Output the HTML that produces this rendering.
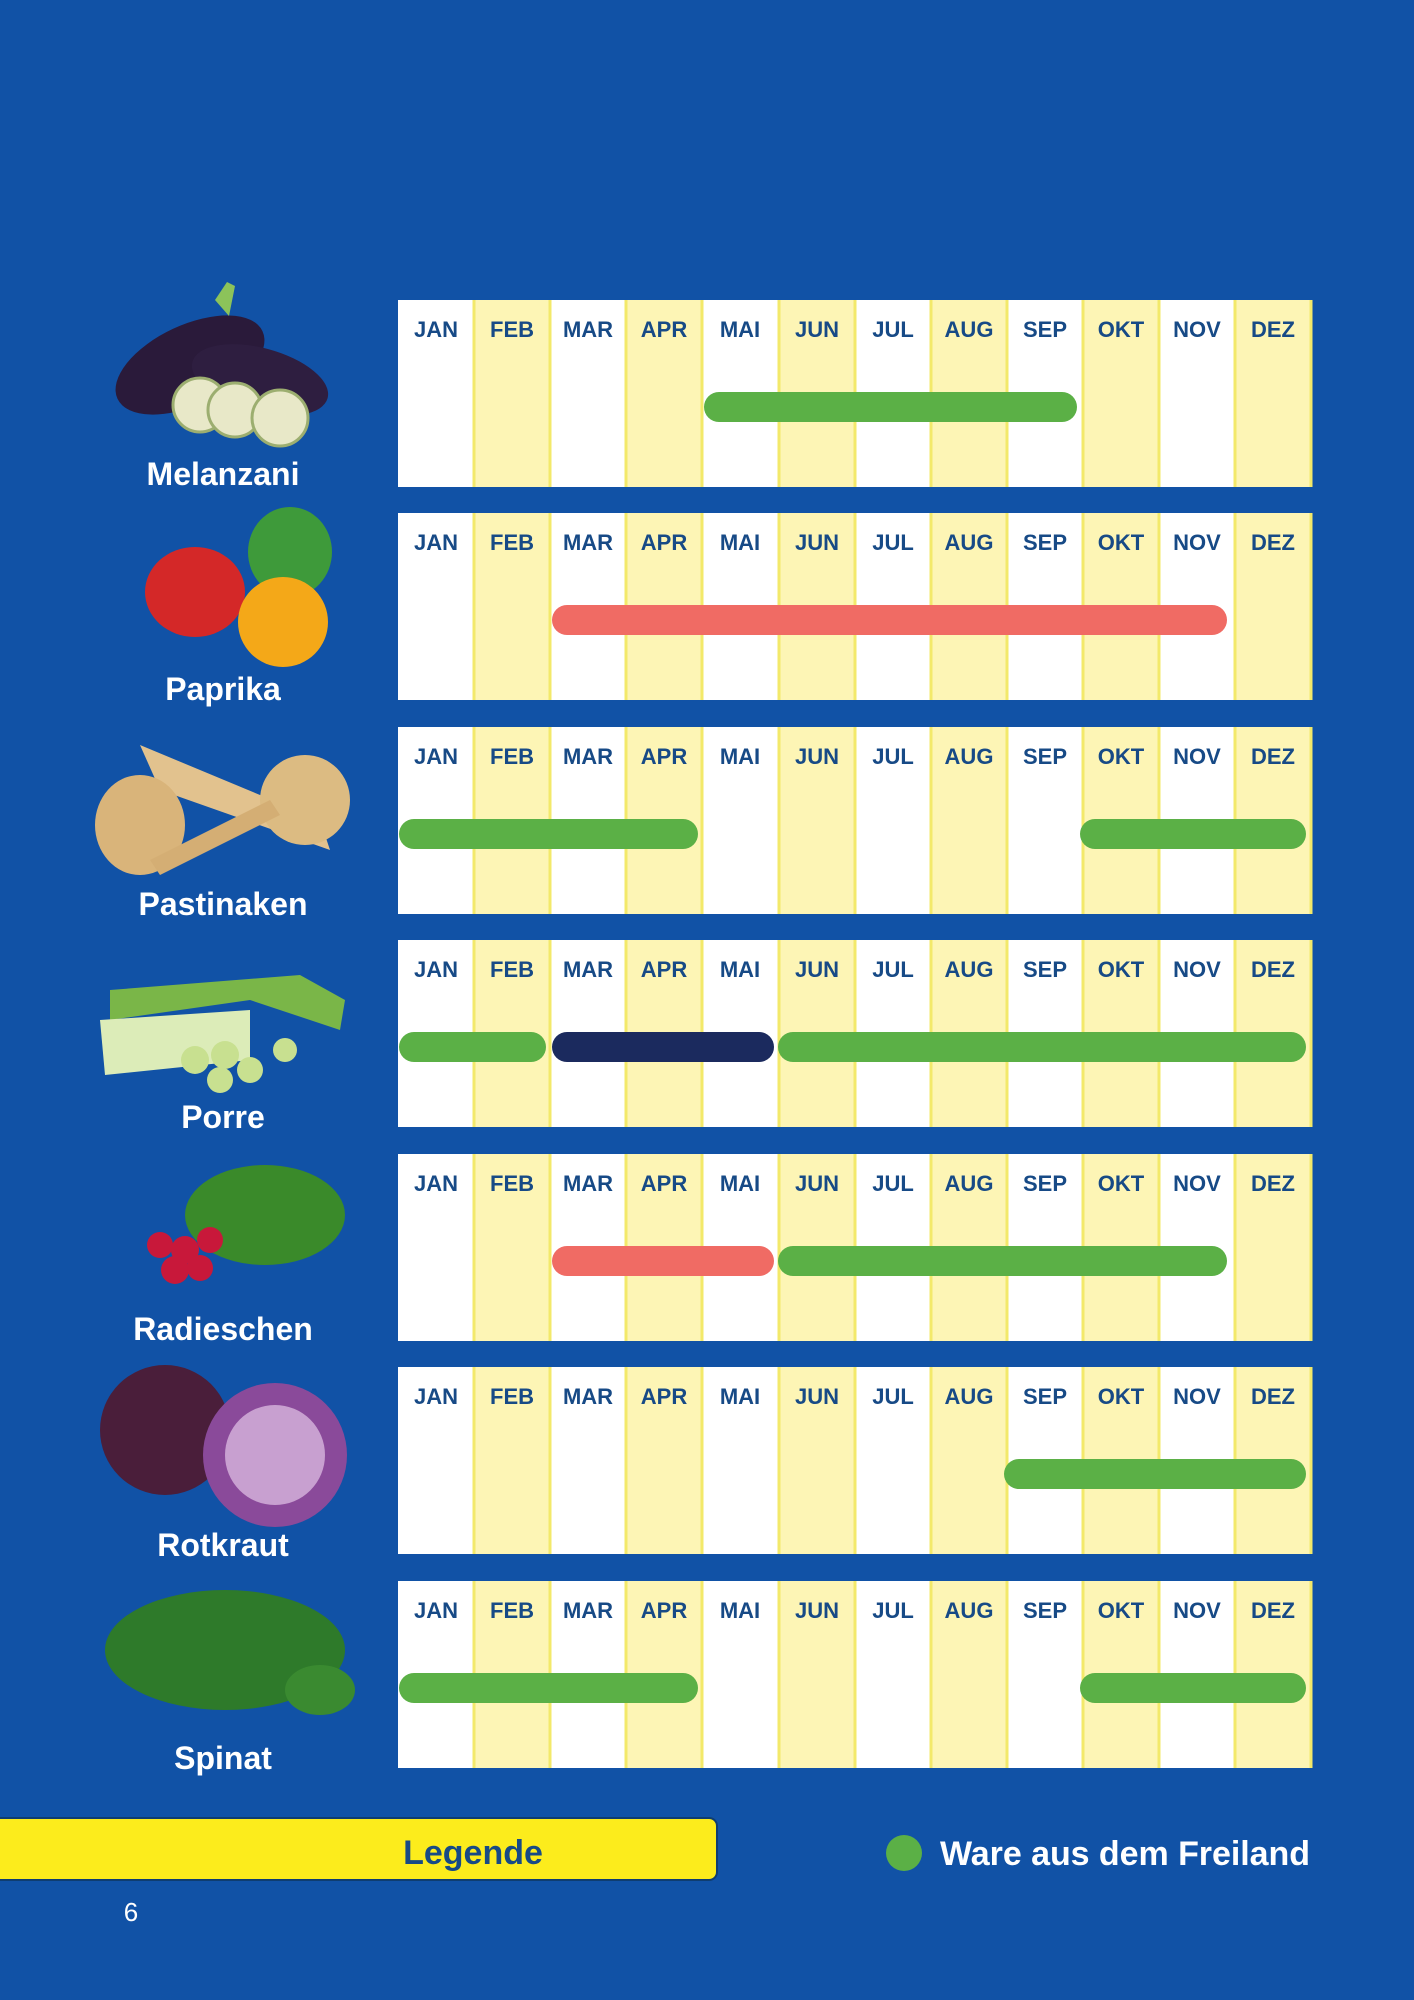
<!DOCTYPE html>
<html><head><meta charset="utf-8"><style>
html,body{margin:0;padding:0;background:#1152a6;}
svg{display:block}
.m{font-family:"Liberation Sans",sans-serif;font-weight:bold;font-size:22px;fill:#174a86;text-anchor:middle}
.n{font-family:"Liberation Sans",sans-serif;font-weight:bold;font-size:32px;fill:#fff;text-anchor:middle}
.y{fill:#fdf5b5;stroke:#f3e96a;stroke-width:3;stroke-dasharray:0 76 187 76 187}
</style></head><body>
<svg width="1414" height="2000" viewBox="0 0 1414 2000" xmlns="http://www.w3.org/2000/svg">
<rect width="1414" height="2000" fill="#1152a6"/>

<!-- Row 1 Melanzani -->
<g transform="translate(398,300)">
<rect x="0" y="0" width="913" height="187" fill="#fff"/>
<g class="y"><rect x="76" y="0" width="76" height="187"/><rect x="228" y="0" width="76" height="187"/><rect x="381" y="0" width="76" height="187"/><rect x="533" y="0" width="76" height="187"/><rect x="685" y="0" width="76" height="187"/><rect x="837" y="0" width="76" height="187"/></g>
<text class="m" x="38" y="37">JAN</text><text class="m" x="114" y="37">FEB</text><text class="m" x="190" y="37">MAR</text><text class="m" x="266" y="37">APR</text><text class="m" x="342" y="37">MAI</text><text class="m" x="419" y="37">JUN</text><text class="m" x="495" y="37">JUL</text><text class="m" x="571" y="37">AUG</text><text class="m" x="647" y="37">SEP</text><text class="m" x="723" y="37">OKT</text><text class="m" x="799" y="37">NOV</text><text class="m" x="875" y="37">DEZ</text>
<rect x="306" y="92" width="373" height="30" rx="15" fill="#5bb046"/>
</g>
<!-- Row 2 Paprika -->
<g transform="translate(398,513)">
<rect x="0" y="0" width="913" height="187" fill="#fff"/>
<g class="y"><rect x="76" y="0" width="76" height="187"/><rect x="228" y="0" width="76" height="187"/><rect x="381" y="0" width="76" height="187"/><rect x="533" y="0" width="76" height="187"/><rect x="685" y="0" width="76" height="187"/><rect x="837" y="0" width="76" height="187"/></g>
<text class="m" x="38" y="37">JAN</text><text class="m" x="114" y="37">FEB</text><text class="m" x="190" y="37">MAR</text><text class="m" x="266" y="37">APR</text><text class="m" x="342" y="37">MAI</text><text class="m" x="419" y="37">JUN</text><text class="m" x="495" y="37">JUL</text><text class="m" x="571" y="37">AUG</text><text class="m" x="647" y="37">SEP</text><text class="m" x="723" y="37">OKT</text><text class="m" x="799" y="37">NOV</text><text class="m" x="875" y="37">DEZ</text>
<rect x="154" y="92" width="675" height="30" rx="15" fill="#f06b64"/>
</g>
<!-- Row 3 Pastinaken -->
<g transform="translate(398,727)">
<rect x="0" y="0" width="913" height="187" fill="#fff"/>
<g class="y"><rect x="76" y="0" width="76" height="187"/><rect x="228" y="0" width="76" height="187"/><rect x="381" y="0" width="76" height="187"/><rect x="533" y="0" width="76" height="187"/><rect x="685" y="0" width="76" height="187"/><rect x="837" y="0" width="76" height="187"/></g>
<text class="m" x="38" y="37">JAN</text><text class="m" x="114" y="37">FEB</text><text class="m" x="190" y="37">MAR</text><text class="m" x="266" y="37">APR</text><text class="m" x="342" y="37">MAI</text><text class="m" x="419" y="37">JUN</text><text class="m" x="495" y="37">JUL</text><text class="m" x="571" y="37">AUG</text><text class="m" x="647" y="37">SEP</text><text class="m" x="723" y="37">OKT</text><text class="m" x="799" y="37">NOV</text><text class="m" x="875" y="37">DEZ</text>
<rect x="1" y="92" width="299" height="30" rx="15" fill="#5bb046"/>
<rect x="682" y="92" width="226" height="30" rx="15" fill="#5bb046"/>
</g>
<!-- Row 4 Porre -->
<g transform="translate(398,940)">
<rect x="0" y="0" width="913" height="187" fill="#fff"/>
<g class="y"><rect x="76" y="0" width="76" height="187"/><rect x="228" y="0" width="76" height="187"/><rect x="381" y="0" width="76" height="187"/><rect x="533" y="0" width="76" height="187"/><rect x="685" y="0" width="76" height="187"/><rect x="837" y="0" width="76" height="187"/></g>
<text class="m" x="38" y="37">JAN</text><text class="m" x="114" y="37">FEB</text><text class="m" x="190" y="37">MAR</text><text class="m" x="266" y="37">APR</text><text class="m" x="342" y="37">MAI</text><text class="m" x="419" y="37">JUN</text><text class="m" x="495" y="37">JUL</text><text class="m" x="571" y="37">AUG</text><text class="m" x="647" y="37">SEP</text><text class="m" x="723" y="37">OKT</text><text class="m" x="799" y="37">NOV</text><text class="m" x="875" y="37">DEZ</text>
<rect x="1" y="92" width="147" height="30" rx="15" fill="#5bb046"/>
<rect x="154" y="92" width="222" height="30" rx="15" fill="#1b2a5e"/>
<rect x="380" y="92" width="528" height="30" rx="15" fill="#5bb046"/>
</g>
<!-- Row 5 Radieschen -->
<g transform="translate(398,1154)">
<rect x="0" y="0" width="913" height="187" fill="#fff"/>
<g class="y"><rect x="76" y="0" width="76" height="187"/><rect x="228" y="0" width="76" height="187"/><rect x="381" y="0" width="76" height="187"/><rect x="533" y="0" width="76" height="187"/><rect x="685" y="0" width="76" height="187"/><rect x="837" y="0" width="76" height="187"/></g>
<text class="m" x="38" y="37">JAN</text><text class="m" x="114" y="37">FEB</text><text class="m" x="190" y="37">MAR</text><text class="m" x="266" y="37">APR</text><text class="m" x="342" y="37">MAI</text><text class="m" x="419" y="37">JUN</text><text class="m" x="495" y="37">JUL</text><text class="m" x="571" y="37">AUG</text><text class="m" x="647" y="37">SEP</text><text class="m" x="723" y="37">OKT</text><text class="m" x="799" y="37">NOV</text><text class="m" x="875" y="37">DEZ</text>
<rect x="154" y="92" width="222" height="30" rx="15" fill="#f06b64"/>
<rect x="380" y="92" width="449" height="30" rx="15" fill="#5bb046"/>
</g>
<!-- Row 6 Rotkraut -->
<g transform="translate(398,1367)">
<rect x="0" y="0" width="913" height="187" fill="#fff"/>
<g class="y"><rect x="76" y="0" width="76" height="187"/><rect x="228" y="0" width="76" height="187"/><rect x="381" y="0" width="76" height="187"/><rect x="533" y="0" width="76" height="187"/><rect x="685" y="0" width="76" height="187"/><rect x="837" y="0" width="76" height="187"/></g>
<text class="m" x="38" y="37">JAN</text><text class="m" x="114" y="37">FEB</text><text class="m" x="190" y="37">MAR</text><text class="m" x="266" y="37">APR</text><text class="m" x="342" y="37">MAI</text><text class="m" x="419" y="37">JUN</text><text class="m" x="495" y="37">JUL</text><text class="m" x="571" y="37">AUG</text><text class="m" x="647" y="37">SEP</text><text class="m" x="723" y="37">OKT</text><text class="m" x="799" y="37">NOV</text><text class="m" x="875" y="37">DEZ</text>
<rect x="606" y="92" width="302" height="30" rx="15" fill="#5bb046"/>
</g>
<!-- Row 7 Spinat -->
<g transform="translate(398,1581)">
<rect x="0" y="0" width="913" height="187" fill="#fff"/>
<g class="y"><rect x="76" y="0" width="76" height="187"/><rect x="228" y="0" width="76" height="187"/><rect x="381" y="0" width="76" height="187"/><rect x="533" y="0" width="76" height="187"/><rect x="685" y="0" width="76" height="187"/><rect x="837" y="0" width="76" height="187"/></g>
<text class="m" x="38" y="37">JAN</text><text class="m" x="114" y="37">FEB</text><text class="m" x="190" y="37">MAR</text><text class="m" x="266" y="37">APR</text><text class="m" x="342" y="37">MAI</text><text class="m" x="419" y="37">JUN</text><text class="m" x="495" y="37">JUL</text><text class="m" x="571" y="37">AUG</text><text class="m" x="647" y="37">SEP</text><text class="m" x="723" y="37">OKT</text><text class="m" x="799" y="37">NOV</text><text class="m" x="875" y="37">DEZ</text>
<rect x="1" y="92" width="299" height="30" rx="15" fill="#5bb046"/>
<rect x="682" y="92" width="226" height="30" rx="15" fill="#5bb046"/>
</g>

<!-- Vegetables (simplified) -->
<ellipse cx="190" cy="365" rx="80" ry="40" transform="rotate(-25 190 365)" fill="#2a1a3a"/>
<ellipse cx="260" cy="380" rx="70" ry="32" transform="rotate(15 260 380)" fill="#2e1e40"/>
<path d="M215 300 l12 -18 8 4 -6 30z" fill="#8cc35a"/>
<circle cx="200" cy="405" r="27" fill="#e8e8c8" stroke="#9cae70" stroke-width="3"/>
<circle cx="235" cy="410" r="27" fill="#e8e8c8" stroke="#9cae70" stroke-width="3"/>
<circle cx="280" cy="418" r="28" fill="#e8e8c8" stroke="#9cae70" stroke-width="3"/>
<text class="n" x="223" y="485">Melanzani</text>
<ellipse cx="195" cy="592" rx="50" ry="45" fill="#d42828"/>
<ellipse cx="290" cy="552" rx="42" ry="45" fill="#3e9a3a"/>
<ellipse cx="283" cy="622" rx="45" ry="45" fill="#f4a818"/>
<text class="n" x="223" y="700">Paprika</text>
<path d="M140 745 L320 820 L330 850 L160 790z" fill="#e2c28e"/>
<ellipse cx="140" cy="825" rx="45" ry="50" fill="#d9b47a"/>
<ellipse cx="305" cy="800" rx="45" ry="45" fill="#dcbb82"/>
<path d="M150 860 L270 800 L280 815 L160 875z" fill="#d4ae74"/>
<text class="n" x="223" y="915">Pastinaken</text>
<path d="M110 990 L300 975 L345 1000 L340 1030 L250 1000 L110 1020z" fill="#7ab648"/>
<path d="M100 1020 L250 1010 L250 1060 L105 1075z" fill="#dcecb8"/>
<circle cx="195" cy="1060" r="14" fill="#c8e090"/><circle cx="225" cy="1055" r="14" fill="#c8e090"/><circle cx="250" cy="1070" r="13" fill="#c8e090"/><circle cx="220" cy="1080" r="13" fill="#c8e090"/><circle cx="285" cy="1050" r="12" fill="#c8e090"/>
<text class="n" x="223" y="1128">Porre</text>
<ellipse cx="265" cy="1215" rx="80" ry="50" fill="#3a8a2a"/>
<circle cx="160" cy="1245" r="13" fill="#c8183a"/><circle cx="185" cy="1250" r="14" fill="#c8183a"/><circle cx="175" cy="1270" r="14" fill="#c8183a"/><circle cx="200" cy="1268" r="13" fill="#c8183a"/><circle cx="210" cy="1240" r="13" fill="#c8183a"/>
<text class="n" x="223" y="1340">Radieschen</text>
<circle cx="165" cy="1430" r="65" fill="#4a1e3a"/>
<circle cx="275" cy="1455" r="72" fill="#8a4a9a"/>
<circle cx="275" cy="1455" r="50" fill="#c8a0d0"/>
<text class="n" x="223" y="1556">Rotkraut</text>
<ellipse cx="225" cy="1650" rx="120" ry="60" fill="#2e7a2a"/>
<ellipse cx="320" cy="1690" rx="35" ry="25" fill="#3a8a30"/>
<text class="n" x="223" y="1769">Spinat</text>

<!-- Legend -->
<rect x="-20" y="1818" width="737" height="62" rx="8" fill="#fcec1c" stroke="#0f3d70" stroke-width="2"/>
<text x="473" y="1864" style="font-family:'Liberation Sans',sans-serif;font-weight:bold;font-size:34px;fill:#174a86;text-anchor:middle">Legende</text>
<circle cx="904" cy="1853" r="18" fill="#5bb046"/>
<text x="940" y="1865" style="font-family:'Liberation Sans',sans-serif;font-weight:bold;font-size:34px;fill:#fff" textLength="370">Ware aus dem Freiland</text>
<text x="131" y="1921" style="font-family:'Liberation Sans',sans-serif;font-size:26px;fill:#fff;text-anchor:middle">6</text>
</svg>
</body></html>
